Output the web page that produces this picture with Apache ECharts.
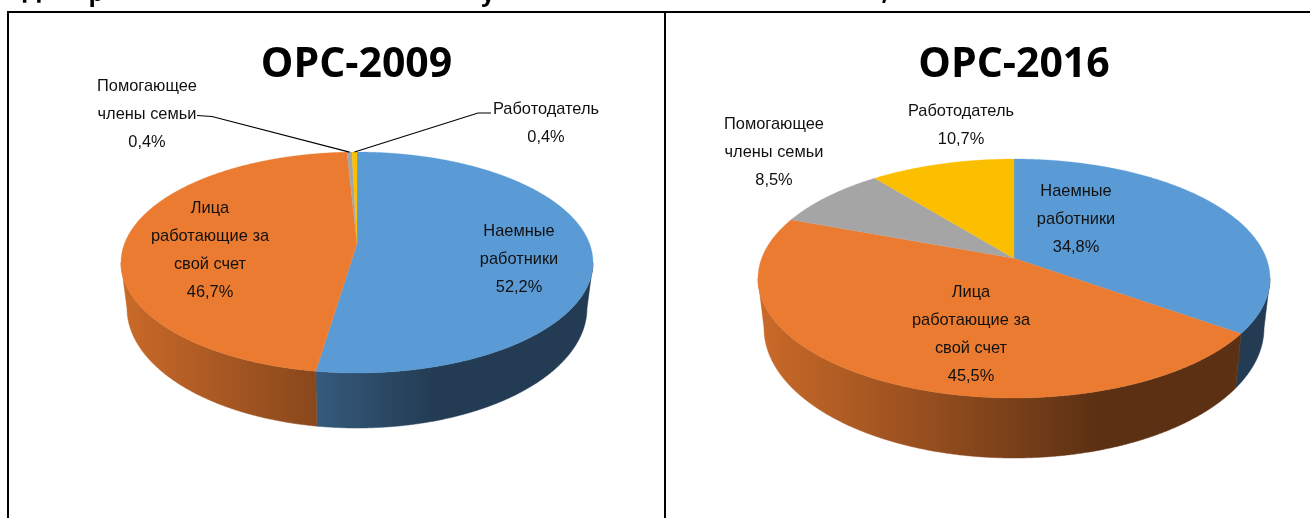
<!DOCTYPE html>
<html><head><meta charset="utf-8">
<style>html,body{margin:0;padding:0;background:#fff}#c{width:1310px;height:518px}</style>
<script src="https://cdn.jsdelivr.net/npm/echarts@6/dist/echarts.min.js"></script>
</head><body><div id="c"></div>
<script>
// ---- data ----
const titles = ['ОРС-2009', 'ОРС-2016'];
const categories = ['Наемные работники', 'Лица работающие за свой счет', 'Помогающее члены семьи', 'Работодатель'];
const labelLines = [['Наемные', 'работники'], ['Лица', 'работающие за', 'свой счет'], ['Помогающее', 'члены семьи'], ['Работодатель']];
const values2009 = [52.2, 46.7, 0.4, 0.4];
const values2016 = [34.8, 45.5, 8.5, 10.7];
const colors = ['#5B9BD5', '#EB7B30', '#A5A5A5', '#FCBF00'];
// ---- layout ----
const pies = [
  { cx: 357, cy: 262.5, rx: 236, ry: 110.5, cy2: 308, rx2: 230, ry2: 120, titleX: 351.5, titleY: 69,
    labels: [[519, 259.5], [210, 250.5], [147, 114], [546, 123]],
    leaders: [null, null, [[212, 116.5], [197, 115.5]], [[478, 113], [491, 113]]] },
  { cx: 1014, cy: 278.5, rx: 256, ry: 119.5, cy2: 328, rx2: 250, ry2: 130, titleX: 1009, titleY: 69,
    labels: [[1076, 219.5], [971, 334.5], [774, 152], [961, 125]],
    leaders: [null, null, null, null] }
];
const S = -0.17; // perspective shift of the pie apex
const headingBits = [['Д', 32, 3], ['р', 96, 6], ['у', 488, 6], [',', 885, 5]];
const FONT = '16.4px "Liberation Sans", Arial, sans-serif';

function rim(theta, rx, ry, cx, cy) {
  const u = Math.sin(theta), v = -Math.cos(theta), d = 1 + S * v;
  return [cx + rx * u * Math.sqrt(1 - S * S) / d, cy + ry * (v + S) / d];
}
function shade(hex, k) {
  const n = parseInt(hex.slice(1), 16);
  return 'rgb(' + [(n >> 16) & 255, (n >> 8) & 255, n & 255].map(c => Math.round(c * k)).join(',') + ')';
}
function wallFill(color, L) {
  return { type: 'linear', x: L.cx - L.rx, y: 0, x2: L.cx + L.rx, y2: 0, global: true, colorStops: [
    { offset: 0, color: shade(color, 0.86) },
    { offset: 0.415, color: shade(color, 0.58) },
    { offset: 0.665, color: shade(color, 0.39) },
    { offset: 1, color: shade(color, 0.39) } ] };
}
function pieSeries(values, L) {
  const total = values.reduce((a, b) => a + b, 0);
  let acc = 0;
  const data = values.map((v, i) => { const r = [acc, v, i]; acc += v; return r; });
  return {
    type: 'custom', coordinateSystem: 'none', data, silent: true, animation: false,
    renderItem(params, api) {
      const i = api.value(2);
      const a0 = api.value(0) / total * 2 * Math.PI;
      const a1 = (api.value(0) + api.value(1)) / total * 2 * Math.PI;
      const n = Math.max(2, Math.ceil((a1 - a0) / 0.005));
      const top = [], wallTop = [], wallBot = [];
      const apex = [L.cx, L.cy + L.ry * S];
      top.push(apex);
      for (let k = 0; k <= n; k++) {
        const t = a0 + (a1 - a0) * k / n;
        const p = rim(t, L.rx, L.ry, L.cx, L.cy);
        top.push(p);
        if (p[1] >= L.cy) { wallTop.push(p); wallBot.push(rim(t, L.rx2, L.ry2, L.cx, L.cy2)); }
      }
      const children = [];
      if (wallTop.length > 1) {
        const fill = wallFill(colors[i], L);
        children.push({ type: 'polygon', shape: { points: wallTop.concat(wallBot.reverse()) },
          style: { fill, stroke: fill, lineWidth: 0.5 } });
      }
      children.push({ type: 'polygon', z2: 5, shape: { points: top },
        style: { fill: colors[i], stroke: colors[i], lineWidth: 0.3 } });
      const lead = L.leaders[i];
      if (lead) {
        const m = rim((a0 + a1) / 2, L.rx, L.ry, L.cx, L.cy);
        children.push({ type: 'polyline', z2: 8, shape: { points: [m].concat(lead) },
          style: { fill: null, stroke: '#000', lineWidth: 1.2 } });
      }
      const text = labelLines[i].concat([api.value(1).toFixed(1).replace('.', ',') + '%']).join('\n');
      children.push({ type: 'text', z2: 10, style: { text, x: L.labels[i][0], y: L.labels[i][1],
        align: 'center', verticalAlign: 'middle', font: FONT, lineHeight: 28, fill: '#111' } });
      return { type: 'group', children };
    }
  };
}
const frame = [
  { type: 'rect', shape: { x: 7, y: 11, width: 1303, height: 2 }, style: { fill: '#000' } },
  { type: 'rect', shape: { x: 7, y: 11, width: 2, height: 507 }, style: { fill: '#000' } },
  { type: 'rect', shape: { x: 664, y: 11, width: 2, height: 507 }, style: { fill: '#000' } }
].concat(headingBits.map(b => ({ type: 'text', style: {
  text: b[0], x: b[1], y: b[2], align: 'center', verticalAlign: 'bottom',
  font: 'bold 24px "Open Sans", sans-serif', fill: '#000' } })));

const chart = echarts.init(document.getElementById('c'), null, { renderer: 'canvas' });
chart.setOption({
  backgroundColor: '#fff', animation: false,
  title: titles.map((t, i) => ({ text: t, left: pies[i].titleX, top: pies[i].titleY - 29, textAlign: 'center',
    textStyle: { fontSize: 41, fontWeight: 'bold', fontFamily: '"Open Sans", sans-serif', color: '#000' } })),
  graphic: { elements: frame },
  series: [pieSeries(values2009, pies[0]), pieSeries(values2016, pies[1])]
});
</script></body></html>
